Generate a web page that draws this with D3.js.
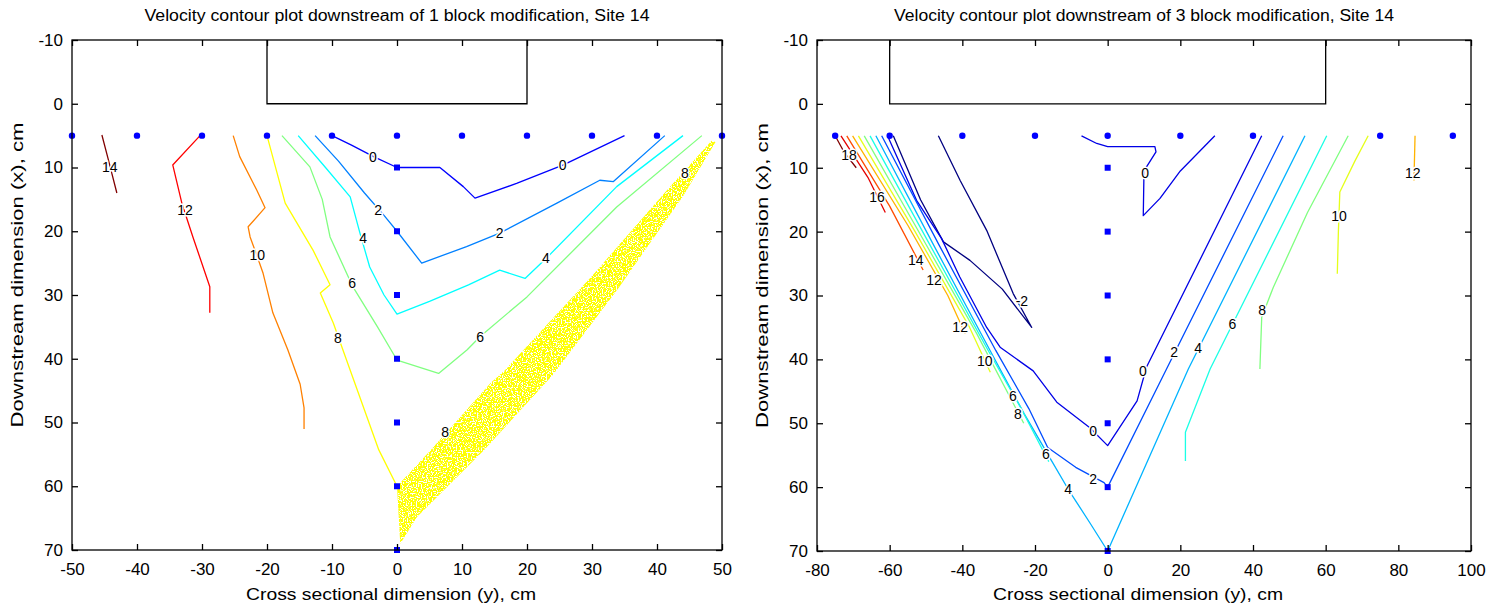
<!DOCTYPE html>
<html>
<head>
<meta charset="utf-8">
<script src="https://cdn.jsdelivr.net/npm/d3@7"></script>
<style>
body { margin: 0; background: #fff; }
text { font-family: "Liberation Sans", Arial, sans-serif; fill: #000; }
</style>
</head>
<body>
<div id="chart-area"></div>
<script>
// ---- data (cross sectional y, downstream x) ----
let yTicks = [-10, 0, 10, 20, 30, 40, 50, 60, 70];
let leftXTicks = [-50, -40, -30, -20, -10, 0, 10, 20, 30, 40, 50];
let rightXTicks = [-80, -60, -40, -20, 0, 20, 40, 60, 80, 100];

let leftBlock = [-20, 20];
let rightBlock = [-60, 60];

let leftTopRow = [-50, -40, -30, -20, -10, 0, 10, 20, 30, 40, 50];
let rightTopRow = [-75, -60, -40, -20, 0, 20, 40, 75, 95];
let centreColumn = [10, 20, 30, 40, 50, 60, 70];

// left panel contours (1 block)
let left0 = [[-10,5],[-7,6.5],[-3.6,8.3],[0,10],[6.6,10],[10.2,13],[12,14.8],[18.4,12.5],[25.6,9.6],[35,5]];
let left2 = [[-12.6,5],[-9,9],[-5,14],[-2,17.5],[0,20],[3.8,25],[10.7,22.4],[15.8,20.3],[24.6,15.6],[31.2,12],[33.3,12.2],[41.2,5]];
let left4 = [[-15.2,5],[-11,10],[-7.2,14.6],[-5.7,20.3],[-4.2,25.6],[-2,30],[0,33],[5,31],[11,28.4],[15.8,26.1],[19.7,27.4],[23,24.2],[33.8,13],[44,5]];
let left6 = [[-17.7,5],[-13.4,9.9],[-11.5,15],[-10.3,20.9],[-6.8,28.7],[-3,35],[0,40.2],[6.4,42.3],[10.8,38.6],[12.8,36.5],[20,30.3],[33.8,16.2],[46.9,5]];
let left8 = [[-20,5],[-17.2,15.6],[-12.9,23],[-10.3,28.4],[-11.8,29.7],[-9.8,34.4],[-7.2,41.8],[-2.8,54.3],[0,60]];
let left10 = [[-25.2,5],[-24.2,8.3],[-21.6,13.5],[-20.3,16.3],[-22.9,19.3],[-22.6,20.9],[-21.6,23.7],[-20.6,26.6],[-19.1,32.8],[-16.8,38.6],[-14.9,44],[-14.3,47.7],[-14.3,51]];
let left12 = [[-30.3,5],[-34.5,9.6],[-33.1,15.6],[-31.4,20.9],[-28.8,28.7],[-28.8,32.8]];
let left14 = [[-45.4,4.9],[-44.5,8.4],[-43.1,14]];
let leftLevels = [0, 2, 4, 6, 8, 10, 12, 14];

// noisy region around level 8 (drawn as a filled band)
let bandUpper = [[0,60],[5.2,54.3],[14.4,43.8],[16.6,41.8],[30,27],[42,13],[48.4,5.8]];
let bandLower = [[0.5,69],[3.1,64.8],[13.4,54.3],[24,42.5],[34,29],[44,14.5],[49,6]];

let leftLabels = [
    ["14",-44.2,9.9],["12",-32.6,16.7],["10",-21.5,23.7],["8",-9.1,36.7],["6",-6.9,28.1],
    ["4",-5.2,21.1],["2",-2.9,16.7],["0",-3.7,8.3],["0",25.5,9.6],["2",15.8,20.3],
    ["4",22.9,24.2],["6",12.8,36.6],["8",44.3,10.9],["8",7.4,51.5]
];

// right panel contours (3 block)
let rightM2 = [[-46.6,5],[-40.6,12],[-33.3,19.8],[-26,29.7],[-20.9,35],[-29,29],[-37.9,24.5],[-45.2,21.6],[-51.5,15],[-59,5]];
let right0 = [[-60.6,5],[-52.6,15.1],[-45.7,21.1],[-40.7,27.1],[-33.3,35],[-29.6,38.1],[-20.5,41.8],[-14,46.7],[-4.9,50.7],[0,53.5],[8.1,46.5],[10.7,41.2],[42.4,5]];
let right0b = [[-7.2,5],[-3,6.2],[0,6.7],[13,6.7],[13.3,7.5],[10,10.5],[9.8,17.5],[14.4,14.8],[20,10.5],[29.5,5]];
let right2 = [[-62.2,5],[-46.5,22],[-30.8,38.6],[-21.7,47.7],[-16.5,53.8],[-8.8,56.9],[-1,59.3],[0,60],[16.2,41.5],[48.3,5]];
let right4 = [[-63.8,5],[-48,22],[-32,39],[-23,48.5],[-15.3,56],[-10.9,60.3],[-5,65.5],[0,70],[22.2,41.5],[54.3,5]];
let right6 = [[-65.4,5],[-49,22],[-33,38.5],[-24,47.5],[-16.2,56]];
let right6b = [[60.3,5],[28.2,41.5],[21.4,51.4],[21.4,55.9]];
let right8 = [[-67,5],[-51,21],[-36,36],[-23.1,50]];
let right8b = [[66.2,5],[55,17],[45.6,28.7],[42.4,33.4],[41.9,41.5]];
let right10 = [[-68.6,5],[-53,20],[-38,35],[-32.3,42]];
let right10b = [[71.7,5],[68,9],[63.9,13.8],[63.5,20],[63.2,26.6]];
let right12 = [[-70.2,5],[-55,19],[-44,30],[-39.2,36]];
let right12b = [[84.6,5],[84.3,12]];
let right14 = [[-71.8,5],[-60,16],[-50.8,26]];
let right16 = [[-73.4,5],[-66,11.5],[-61.2,17]];
let right18 = [[-75,5],[-72.6,7.5],[-69.2,10]];

let rightLabels = [
    ["18",-71.2,8.0],["16",-63.5,14.6],["14",-52.8,24.5],["12",-47.8,27.6],["12",-40.6,35],
    ["10",-33.8,40.2],["6",-26.1,45.7],["8",-24.7,48.5],["6",-17,54.8],["4",-10.9,60.3],
    ["2",-4,58.7],["0",-4,51.3],["-2",-23.6,30.8],["0",10.3,10.9],["0",9.7,41.8],
    ["2",18.3,38.9],["4",24.9,38.2],["6",34.3,34.4],["8",42.5,32.3],["10",63.7,17.5],["12",84,10.9]
];

// ---- drawing ----
let svg = d3.select("#chart-area").append("svg")
    .attr("width", 1505)
    .attr("height", 610);

// speckle filter for the noisy yellow band
let filter = svg.append("defs").append("filter")
    .attr("id", "speckle")
    .attr("x", 0).attr("y", 0).attr("width", 1).attr("height", 1);
filter.append("feTurbulence")
    .attr("type", "fractalNoise")
    .attr("baseFrequency", 0.8)
    .attr("numOctaves", 1)
    .attr("seed", 4)
    .attr("result", "noise");
filter.append("feColorMatrix")
    .attr("in", "noise")
    .attr("type", "matrix")
    .attr("values", "0 0 0 0 0  0 0 0 0 0  0 0 0 0 0  0 0 0 -14 8.3")
    .attr("result", "holes");
filter.append("feComposite")
    .attr("in", "SourceGraphic")
    .attr("in2", "holes")
    .attr("operator", "in");

// MATLAB style jet colour map
function jet(t) {
    let c = v => Math.max(0, Math.min(1, v));
    return d3.rgb(255 * c(1.5 - Math.abs(4 * t - 3)),
                  255 * c(1.5 - Math.abs(4 * t - 2)),
                  255 * c(1.5 - Math.abs(4 * t - 1))).formatHex();
}

function drawPanel(p) {
    let x = d3.scaleLinear().domain(p.xDomain).range([p.left, p.right]);
    let y = d3.scaleLinear().domain([-10, 70]).range([p.top, p.bottom]);
    let g = svg.append("g");
    let line = d3.line().x(d => x(d[0])).y(d => y(d[1]));

    // title
    g.append("text")
        .attr("x", (p.left + p.right) / 2)
        .attr("y", 21)
        .attr("text-anchor", "middle")
        .attr("textLength", p.titleWidth)
        .attr("lengthAdjust", "spacingAndGlyphs")
        .style("font-size", "16px")
        .text(p.title);

    // block outline
    g.append("path")
        .attr("d", line([[p.block[0], -10], [p.block[0], 0], [p.block[1], 0], [p.block[1], -10]]))
        .attr("fill", "none")
        .attr("stroke", "#000")
        .attr("stroke-width", 1.3);

    // filled band
    if (p.band) {
        g.append("path")
            .attr("d", line(p.band[0].concat(p.band[1].slice().reverse())) + "Z")
            .attr("fill", "#ffff00")
            .attr("filter", "url(#speckle)");
    }

    // contour lines
    p.contours.forEach(c => {
        g.append("path")
            .attr("d", line(c.pts))
            .attr("fill", "none")
            .attr("stroke", jet(p.colorT(c.level)))
            .attr("stroke-width", 1.3)
            .attr("stroke-linejoin", "round");
    });

    // measurement points
    g.selectAll(".top-pt").data(p.topRow).enter().append("circle")
        .attr("cx", d => x(d)).attr("cy", y(5)).attr("r", 3.2)
        .attr("fill", "#0000ff");
    g.selectAll(".col-pt").data(centreColumn).enter().append("rect")
        .attr("x", d => x(0) - 3).attr("y", d => y(d) - 3)
        .attr("width", 6).attr("height", 6)
        .attr("fill", "#0000ff");

    // contour labels
    g.selectAll(".clabel").data(p.labels).enter().append("text")
        .attr("x", d => x(d[1]))
        .attr("y", d => y(d[2]))
        .attr("dy", "0.35em")
        .attr("text-anchor", "middle")
        .style("font-size", "14px")
        .style("stroke", "#fff")
        .style("stroke-width", 3)
        .style("paint-order", "stroke")
        .text(d => d[0]);

    // frame
    g.append("rect")
        .attr("x", p.left).attr("y", p.top)
        .attr("width", p.right - p.left).attr("height", p.bottom - p.top)
        .attr("fill", "none").attr("stroke", "#000").attr("stroke-width", 1.3);

    // axes with inward ticks, plain hyphen minus like the original
    let fmt = d => String(d);
    let xb = g.append("g").attr("transform", "translate(0," + p.bottom + ")")
        .call(d3.axisBottom(x).tickValues(p.xTicks).tickFormat(fmt).tickSizeInner(-6).tickSizeOuter(0).tickPadding(13));
    let xt = g.append("g").attr("transform", "translate(0," + p.top + ")")
        .call(d3.axisTop(x).tickValues(p.xTicks).tickSizeInner(-6).tickSizeOuter(0).tickFormat(""));
    let yl = g.append("g").attr("transform", "translate(" + p.left + ",0)")
        .call(d3.axisLeft(y).tickValues(yTicks).tickFormat(fmt).tickSizeInner(-6).tickSizeOuter(0).tickPadding(9));
    let yr = g.append("g").attr("transform", "translate(" + p.right + ",0)")
        .call(d3.axisRight(y).tickValues(yTicks).tickSizeInner(-6).tickSizeOuter(0).tickFormat(""));
    [xb, xt, yl, yr].forEach(a => {
        a.select(".domain").remove();
        a.selectAll("line").attr("stroke", "#000").attr("stroke-width", 1.3);
        a.selectAll("text").style("font-size", "17px").style("font-family", "Liberation Sans, Arial, sans-serif").attr("fill", "#000");
    });

    // axis titles
    g.append("text")
        .attr("x", (p.left + p.right) / 2 - 6)
        .attr("y", 600)
        .attr("text-anchor", "middle")
        .attr("textLength", 290)
        .attr("lengthAdjust", "spacingAndGlyphs")
        .style("font-size", "17px")
        .text("Cross sectional dimension (y), cm");

    g.append("text")
        .attr("transform", "translate(" + (p.left - 49) + "," + ((p.top + p.bottom) / 2 - 20) + ") rotate(-90)")
        .attr("text-anchor", "middle")
        .attr("textLength", 305)
        .attr("lengthAdjust", "spacingAndGlyphs")
        .style("font-size", "17px")
        .text("Downstream dimension (x), cm");
}

drawPanel({
    title: "Velocity contour plot downstream of 1 block modification, Site 14",
    titleWidth: 505,
    xDomain: [-50, 50], left: 72, right: 722, top: 40, bottom: 550,
    xTicks: leftXTicks, block: leftBlock, topRow: leftTopRow,
    band: [bandUpper, bandLower],
    colorT: L => (L + 2) / 16,
    contours: [left0, left2, left4, left6, left8, left10, left12, left14].map((pts, i) => ({level: leftLevels[i], pts: pts})),
    labels: leftLabels
});

drawPanel({
    title: "Velocity contour plot downstream of 3 block modification, Site 14",
    titleWidth: 500,
    xDomain: [-80, 100], left: 817, right: 1471, top: 40, bottom: 551,
    xTicks: rightXTicks, block: rightBlock, topRow: rightTopRow,
    band: null,
    colorT: L => (L + 2) / 20,
    contours: [
        {level: -2, pts: rightM2}, {level: 0, pts: right0}, {level: 0, pts: right0b},
        {level: 2, pts: right2}, {level: 4, pts: right4}, {level: 6, pts: right6}, {level: 6, pts: right6b},
        {level: 8, pts: right8}, {level: 8, pts: right8b}, {level: 10, pts: right10}, {level: 10, pts: right10b},
        {level: 12, pts: right12}, {level: 12, pts: right12b}, {level: 14, pts: right14},
        {level: 16, pts: right16}, {level: 18, pts: right18}
    ],
    labels: rightLabels
});
</script>
</body>
</html>
